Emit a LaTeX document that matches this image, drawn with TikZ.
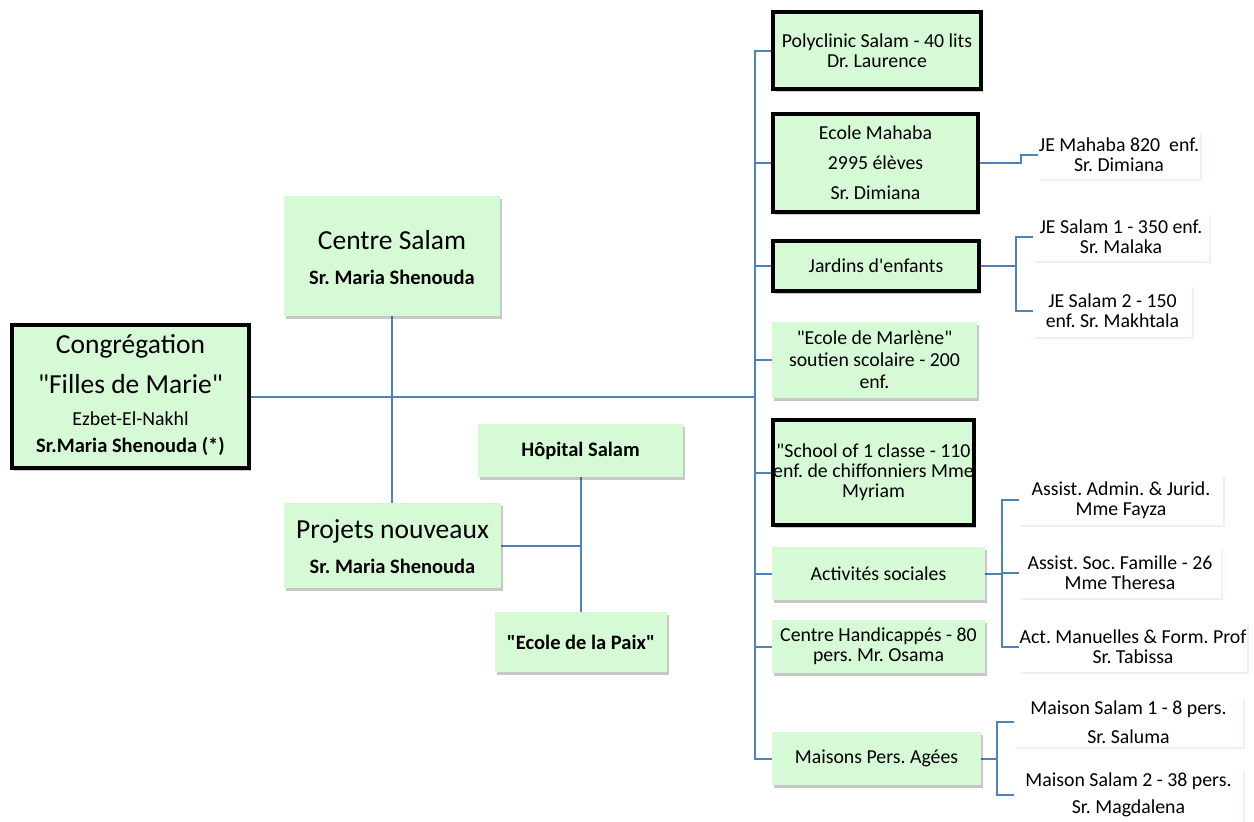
\documentclass[tikz,border=0pt]{standalone}
\usepackage{fontspec}
\setmainfont{Carlito}
\usetikzlibrary{shadows,backgrounds}
\definecolor{boxgreen}{RGB}{214,250,213}
\definecolor{linkblue}{RGB}{79,129,189}
\definecolor{leafshadow}{RGB}{232,246,232}
\newcommand\myfs[2]{\fontsize{#1}{#2}\selectfont}
\newcommand\qd{\textquotedbl}
\frenchspacing
\begin{document}
\begin{tikzpicture}[x=1pt,y=-1pt,
  gbox/.style={fill=boxgreen, inner sep=0pt, align=center,
    drop shadow={shadow xshift=2pt,shadow yshift=-3pt,fill=black,opacity=0.22}},
  tbox/.style={gbox, draw=black, line width=4pt},
  leaf/.style={fill=white, inner sep=0pt, align=center,
    drop shadow={shadow xshift=2pt,shadow yshift=-2pt,fill=leafshadow,opacity=1}},
  txt/.style={inner sep=0pt, anchor=base},
  conn/.style={draw=linkblue, line width=2pt},
  small/.style={font=\frenchspacing\myfs{19.8}{20}},
]
\useasboundingbox (0,0) rectangle (1254,822);

% ---------- left part ----------
\node[tbox, minimum width=237pt, minimum height=143pt] (root) at (130.5,396.5) {};
\node[txt, font=\myfs{27.5}{30}] (rootA) at (130.5,353) {Congrégation};
\node[txt, font=\myfs{27.5}{30}] (rootB) at (130.5,393) {\qd Filles de Marie\qd};
\node[txt, font=\myfs{19.8}{22}] (rootC) at (130.5,425) {Ezbet-El-Nakhl};
\node[txt, font=\frenchspacing\bfseries\myfs{20.5}{22}] (rootD) at (130.5,452) {Sr.Maria Shenouda (*)};

\node[gbox, minimum width=216pt, minimum height=120pt] (centre) at (392,256) {};
\node[txt, font=\myfs{27.5}{30}] (centreA) at (392,249) {Centre Salam};
\node[txt, font=\frenchspacing\bfseries\myfs{20.5}{22}] (centreB) at (392,284) {Sr. Maria Shenouda};

\node[gbox, minimum width=217pt, minimum height=85pt] (projets) at (392.5,545.5) {};
\node[txt, font=\myfs{27.5}{30}] (projetsA) at (392.5,538) {Projets nouveaux};
\node[txt, font=\frenchspacing\bfseries\myfs{20.5}{22}] (projetsB) at (392.5,573) {Sr. Maria Shenouda};

\node[gbox, minimum width=205pt, minimum height=53pt, font=\bfseries\myfs{20.5}{22}] (hopital) at (580.5,450.5) {Hôpital Salam};
\node[gbox, minimum width=172pt, minimum height=60pt, font=\bfseries\myfs{20.5}{22}] (paix) at (581,642) {\qd Ecole de la Paix\qd};

% ---------- right column ----------
\node[tbox, small, minimum width=208pt, minimum height=77pt] (poly) at (877,50.5) {Polyclinic Salam - 40 lits\\Dr. Laurence};
\node[tbox, font=\frenchspacing\myfs{19.8}{30}, minimum width=205pt, minimum height=98pt] (mahaba) at (875.5,163) {Ecole Mahaba\\2995 élèves\\Sr. Dimiana};
\node[tbox, small, minimum width=206pt, minimum height=50pt] (jardins) at (876,266) {Jardins d\textquotesingle enfants};
\node[gbox, font=\frenchspacing\myfs{19.8}{22}, minimum width=205pt, minimum height=76pt] (marlene) at (874.5,360) {\qd Ecole de Marlène\qd\\soutien scolaire - 200\\enf.};
\node[tbox, small, minimum width=201pt, minimum height=105pt] (school) at (873.5,472.5) {\qd School of 1 classe - 110\\enf. de chiffonniers Mme\\Myriam};
\node[gbox, small, minimum width=213pt, minimum height=53pt] (activ) at (878.5,573.5) {Activités sociales};
\node[gbox, small, minimum width=213pt, minimum height=53pt] (handi) at (878.5,646.5) {Centre Handicappés - 80\\pers. Mr. Osama};
\node[gbox, small, minimum width=209pt, minimum height=53pt] (maisons) at (876.5,758.5) {Maisons Pers. Agées};

% ---------- leaves ----------
\node[leaf, small, minimum width=162pt, minimum height=48pt] (jem) at (1119,155) {JE Mahaba 820\ \ enf.\\Sr. Dimiana};
\node[leaf, small, minimum width=176pt, minimum height=48pt] (jes1) at (1121,237) {JE Salam 1 - 350 enf.\\Sr. Malaka};
\node[leaf, small, minimum width=159pt, minimum height=52pt] (jes2) at (1112.5,311) {JE Salam 2 - 150\\enf. Sr. Makhtala};
\node[leaf, small, minimum width=204pt, minimum height=50pt] (aa) at (1121,500) {Assist. Admin. \& Jurid.\\Mme Fayza};
\node[leaf, small, minimum width=202pt, minimum height=50pt] (as) at (1120,573) {Assist. Soc. Famille - 26\\Mme Theresa};
\node[leaf, small, minimum width=228pt, minimum height=50pt] (am) at (1133,646.5) {Act. Manuelles \& Form. Prof\\Sr. Tabissa};
\node[leaf, font=\frenchspacing\myfs{19.8}{29}, minimum width=229pt, minimum height=50pt] (ms1) at (1128.5,722) {Maison Salam 1 - 8 pers.\\Sr. Saluma};
\node[leaf, font=\frenchspacing\myfs{19.8}{27}, minimum width=229pt, minimum height=54pt] (ms2) at (1128.5,795) {Maison Salam 2 - 38 pers.\\Sr. Magdalena};

% ---------- connectors ----------
\coordinate (tr) at (755,396);
\coordinate (mj) at (1021,0);
\coordinate (jx) at (1016,0);
\coordinate (ax) at (1002,0);
\coordinate (mx) at (997,0);
\begin{scope}[on background layer]
\draw[conn] (root.east) -- (root.east -| tr);
\draw[conn] (poly.west) -- (poly.west -| tr) -- (maisons.west -| tr) -- (maisons.west);
\foreach \n in {mahaba,jardins,marlene,school,activ,handi}
  \draw[conn] (\n.west) -- (\n.west -| tr);
\draw[conn] (centre.south) -- (centre.south |- projets.north);
\draw[conn] (hopital.south) -- (hopital.south |- paix.north);
\draw[conn] (projets.east) -- (projets.east -| hopital.south);
\draw[conn] (mahaba.east) -- (mahaba.east -| mj) |- (jem.west);
\draw[conn] (jardins.east) -- (jardins.east -| jx);
\draw[conn] (jes1.west) -- (jes1.west -| jx) -- (jes2.west -| jx) -- (jes2.west);
\draw[conn] (activ.east) -- (activ.east -| ax);
\draw[conn] (aa.west) -- (aa.west -| ax) -- (am.west -| ax) -- (am.west);
\draw[conn] (as.west) -- (as.west -| ax);
\draw[conn] (maisons.east) -- (maisons.east -| mx);
\draw[conn] (ms1.west) -- (ms1.west -| mx) -- (ms2.west -| mx) -- (ms2.west);
\end{scope}
\end{tikzpicture}
\end{document}
